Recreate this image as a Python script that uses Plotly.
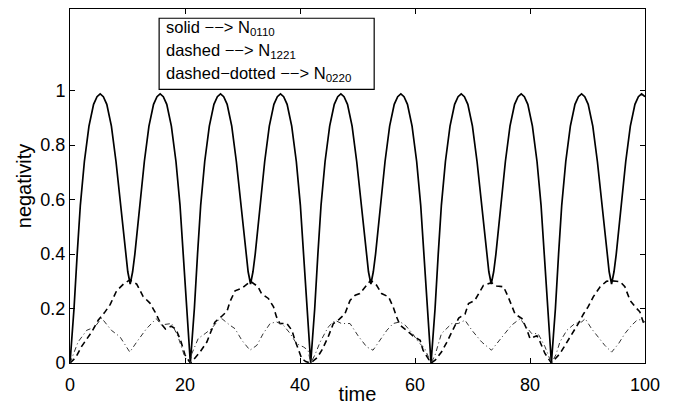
import plotly.graph_objects as go

# ---- data ----
t_solid = [0, 0.35, 0.7, 1.25, 1.8, 2.5, 3.3, 4.1, 4.7, 5.25, 5.8, 6.4, 7.2, 8.0, 8.7, 9.2, 9.65, 10.05, 10.47,
           10.89, 11.28, 11.73, 12.23, 12.93, 13.73, 14.53, 15.13, 15.68, 16.23, 16.83, 17.63, 18.43, 19.13, 19.68, 20.23, 20.58, 20.93,
           21.28, 21.63, 22.18, 22.73, 23.43, 24.23, 25.03, 25.63, 26.18, 26.73, 27.33, 28.13, 28.93, 29.63, 30.13, 30.58, 30.98, 31.40,
           31.82, 32.21, 32.66, 33.16, 33.86, 34.66, 35.46, 36.06, 36.61, 37.16, 37.76, 38.56, 39.36, 40.06, 40.61, 41.16, 41.51, 41.86,
           42.21, 42.56, 43.11, 43.66, 44.36, 45.16, 45.96, 46.56, 47.11, 47.66, 48.26, 49.06, 49.86, 50.56, 51.06, 51.51, 51.91, 52.33,
           52.75, 53.14, 53.59, 54.09, 54.79, 55.59, 56.39, 56.99, 57.54, 58.09, 58.69, 59.49, 60.29, 60.99, 61.54, 62.09, 62.44, 62.79,
           63.14, 63.49, 64.04, 64.59, 65.29, 66.09, 66.89, 67.49, 68.04, 68.59, 69.19, 69.99, 70.79, 71.49, 71.99, 72.44, 72.84, 73.26,
           73.68, 74.07, 74.52, 75.02, 75.72, 76.52, 77.32, 77.92, 78.47, 79.02, 79.62, 80.42, 81.22, 81.92, 82.47, 83.02, 83.37, 83.72,
           84.07, 84.42, 84.97, 85.52, 86.22, 87.02, 87.82, 88.42, 88.97, 89.52, 90.12, 90.92, 91.72, 92.42, 92.92, 93.37, 93.77, 94.19,
           94.61, 95.00, 95.45, 95.95, 96.65, 97.45, 98.25, 98.85, 99.40, 100]
n_0110 = [0, 0.10, 0.20, 0.40, 0.58, 0.74, 0.87, 0.95, 0.978, 0.988, 0.978, 0.95, 0.87, 0.74, 0.60, 0.50, 0.40, 0.335, 0.29,
          0.335, 0.40, 0.50, 0.60, 0.74, 0.87, 0.95, 0.978, 0.988, 0.978, 0.95, 0.87, 0.74, 0.58, 0.40, 0.20, 0.10, 0,
          0.10, 0.20, 0.40, 0.58, 0.74, 0.87, 0.95, 0.978, 0.988, 0.978, 0.95, 0.87, 0.74, 0.60, 0.50, 0.40, 0.335, 0.29,
          0.335, 0.40, 0.50, 0.60, 0.74, 0.87, 0.95, 0.978, 0.988, 0.978, 0.95, 0.87, 0.74, 0.58, 0.40, 0.20, 0.10, 0,
          0.10, 0.20, 0.40, 0.58, 0.74, 0.87, 0.95, 0.978, 0.988, 0.978, 0.95, 0.87, 0.74, 0.60, 0.50, 0.40, 0.335, 0.29,
          0.335, 0.40, 0.50, 0.60, 0.74, 0.87, 0.95, 0.978, 0.988, 0.978, 0.95, 0.87, 0.74, 0.58, 0.40, 0.20, 0.10, 0,
          0.10, 0.20, 0.40, 0.58, 0.74, 0.87, 0.95, 0.978, 0.988, 0.978, 0.95, 0.87, 0.74, 0.60, 0.50, 0.40, 0.335, 0.29,
          0.335, 0.40, 0.50, 0.60, 0.74, 0.87, 0.95, 0.978, 0.988, 0.978, 0.95, 0.87, 0.74, 0.58, 0.40, 0.20, 0.10, 0,
          0.10, 0.20, 0.40, 0.58, 0.74, 0.87, 0.95, 0.978, 0.988, 0.978, 0.95, 0.87, 0.74, 0.60, 0.50, 0.40, 0.335, 0.29,
          0.335, 0.40, 0.50, 0.60, 0.74, 0.87, 0.95, 0.978, 0.988, 0.978]

t_dashed = [0, 1.0, 2.0, 3.0, 3.8, 4.9, 6.0, 7.0, 8.1, 9.3, 10.4, 11.6, 12.7, 13.9, 14.8, 15.7, 16.6, 17.6, 18.4, 19.2, 20.0, 20.93,
            21.4, 22.6, 23.8, 24.6, 25.2, 26.3, 27.3, 27.8, 28.7, 29.9, 31.0, 31.4, 32.7, 33.3, 34.5, 35.4, 35.9, 36.5, 37.7, 38.6, 39.1, 39.7, 40.3, 41.0, 41.86,
            43.0, 43.8, 44.9, 45.8, 46.8, 47.8, 48.7, 49.6, 50.4, 51.3, 52.3, 53.3, 54.2, 55.4, 56.2, 56.8, 57.4, 58.2, 59.1, 60.0, 60.9, 61.4, 62.3, 62.79,
            63.5, 64.6, 65.5, 66.6, 67.6, 68.7, 69.3, 70.4, 71.9, 73.3, 74.2, 75.4, 76.2, 77.4, 78.6, 79.4, 80.0, 81.2, 81.7, 82.6, 83.72,
            85.2, 86.1, 87.2, 88.4, 89.3, 90.1, 91.0, 92.2, 93.3, 94.2, 95.0, 95.7, 96.5, 97.4, 98.3, 99.1, 99.7, 100]
n_1221 = [0, 0.02, 0.06, 0.09, 0.115, 0.157, 0.185, 0.215, 0.265, 0.29, 0.305, 0.29, 0.245, 0.22, 0.187, 0.148, 0.125, 0.135, 0.125, 0.085, 0.03, 0,
          0.01, 0.04, 0.077, 0.12, 0.15, 0.17, 0.19, 0.224, 0.265, 0.275, 0.292, 0.30, 0.28, 0.255, 0.237, 0.206, 0.17, 0.145, 0.145, 0.12, 0.085, 0.047, 0.016, 0.005, 0,
          0.02, 0.047, 0.096, 0.145, 0.16, 0.18, 0.23, 0.249, 0.255, 0.28, 0.304, 0.286, 0.255, 0.243, 0.206, 0.169, 0.139, 0.125, 0.108, 0.094, 0.083, 0.047, 0.016, 0,
          0.01, 0.04, 0.075, 0.12, 0.165, 0.18, 0.218, 0.23, 0.285, 0.295, 0.283, 0.28, 0.243, 0.18, 0.163, 0.126, 0.09, 0.10, 0.08, 0.035, 0,
          0.034, 0.065, 0.10, 0.145, 0.18, 0.206, 0.243, 0.28, 0.30, 0.302, 0.30, 0.298, 0.28, 0.23, 0.206, 0.188, 0.15, 0.14]

t_dashdot = [0, 1.4, 2.9, 4.3, 5.5, 7.2, 8.7, 10.4, 11.6, 13.3, 15.0, 15.9, 17.7, 18.8, 20.0, 20.93,
             21.2, 22.3, 23.5, 24.6, 25.8, 26.4, 27.8, 28.7, 29.9, 31.3, 32.5, 33.6, 34.8, 35.9, 37.1, 38.3, 39.4, 40.6, 41.4, 41.86,
             42.6, 43.5, 44.9, 46.1, 47.2, 48.7, 50.1, 51.6, 52.7, 53.9, 55.1, 56.2, 57.4, 58.3, 59.5, 60.6, 61.7, 62.79,
             63.5, 64.6, 66.4, 67.5, 68.7, 69.9, 71.6, 73.3, 75.1, 76.8, 78.3, 79.1, 80.3, 81.4, 82.6, 83.72,
             84.5, 85.2, 86.4, 87.8, 89.0, 89.6, 90.7, 91.9, 93.0, 94.2, 95.4, 96.5, 97.7, 98.6, 99.4, 100]
n_0220 = [0, 0.077, 0.12, 0.132, 0.165, 0.12, 0.096, 0.04, 0.077, 0.126, 0.163, 0.14, 0.145, 0.096, 0.02, 0,
          0.035, 0.09, 0.108, 0.126, 0.157, 0.163, 0.139, 0.126, 0.083, 0.047, 0.065, 0.108, 0.145, 0.151, 0.139, 0.108, 0.071, 0.059, 0.047, 0,
          0.03, 0.077, 0.132, 0.157, 0.145, 0.145, 0.10, 0.059, 0.047, 0.083, 0.12, 0.145, 0.151, 0.139, 0.11, 0.077, 0.053, 0,
          0.03, 0.108, 0.145, 0.145, 0.157, 0.12, 0.077, 0.047, 0.096, 0.139, 0.163, 0.139, 0.108, 0.108, 0.06, 0,
          0.03, 0.077, 0.12, 0.145, 0.151, 0.163, 0.126, 0.096, 0.065, 0.04, 0.071, 0.108, 0.139, 0.157, 0.16, 0.15]

x_ticks = [0, 20, 40, 60, 80, 100]
y_ticks = [0, 0.2, 0.4, 0.6, 0.8, 1]
y_tick_labels = ["0", "0.2", "0.4", "0.6", "0.8", "1"]
legend_lines = ["solid \u2212\u2212> N<sub>0110</sub>",
                "dashed \u2212\u2212> N<sub>1221</sub>",
                "dashed\u2212dotted \u2212\u2212> N<sub>0220</sub>"]

FONT = "Liberation Sans, Arial, Helvetica, sans-serif"

fig = go.Figure()
fig.add_trace(go.Scatter(x=t_solid, y=n_0110, mode="lines",
                         line=dict(color="black", width=1.7), showlegend=False))
fig.add_trace(go.Scatter(x=t_dashed, y=n_1221, mode="lines",
                         line=dict(color="black", width=1.6, dash="6px,4px"), showlegend=False))
fig.add_trace(go.Scatter(x=t_dashdot, y=n_0220, mode="lines",
                         line=dict(color="#333333", width=1.0, dash="5px,3px,1px,3px"), showlegend=False))

# legend box (MATLAB-style text legend)
fig.add_shape(type="rect", xref="x", yref="y", x0=15.5, x1=52.9, y0=1.005, y1=1.266,
              line=dict(color="black", width=1.2), fillcolor="white")
for txt, yy in zip(legend_lines, [1.23, 1.146, 1.061]):
    fig.add_annotation(x=16.3, y=yy, xref="x", yref="y", text=txt, showarrow=False,
                       xanchor="left", yanchor="middle",
                       font=dict(family=FONT, size=16.5, color="black"))

axis_common = dict(showline=True, mirror="ticks", linecolor="black", linewidth=1,
                   ticks="inside", ticklen=5, tickcolor="black", showgrid=False, zeroline=False,
                   automargin=False,
                   tickfont=dict(family=FONT, size=18, color="black"))

fig.update_xaxes(range=[0, 100], tickvals=x_ticks, ticklabelstandoff=5,
                 title=dict(text="time", standoff=0, font=dict(family=FONT, size=20, color="black")),
                 **axis_common)
fig.update_yaxes(range=[0, 1.3], tickvals=y_ticks, ticktext=y_tick_labels,
                 title=dict(text="negativity", standoff=3, font=dict(family=FONT, size=20, color="black")),
                 **axis_common)

fig.update_layout(width=690, height=405, margin=dict(l=70, r=45, t=9, b=42, autoexpand=False),
                  plot_bgcolor="white", paper_bgcolor="white")

fig.write_html("out.html")
